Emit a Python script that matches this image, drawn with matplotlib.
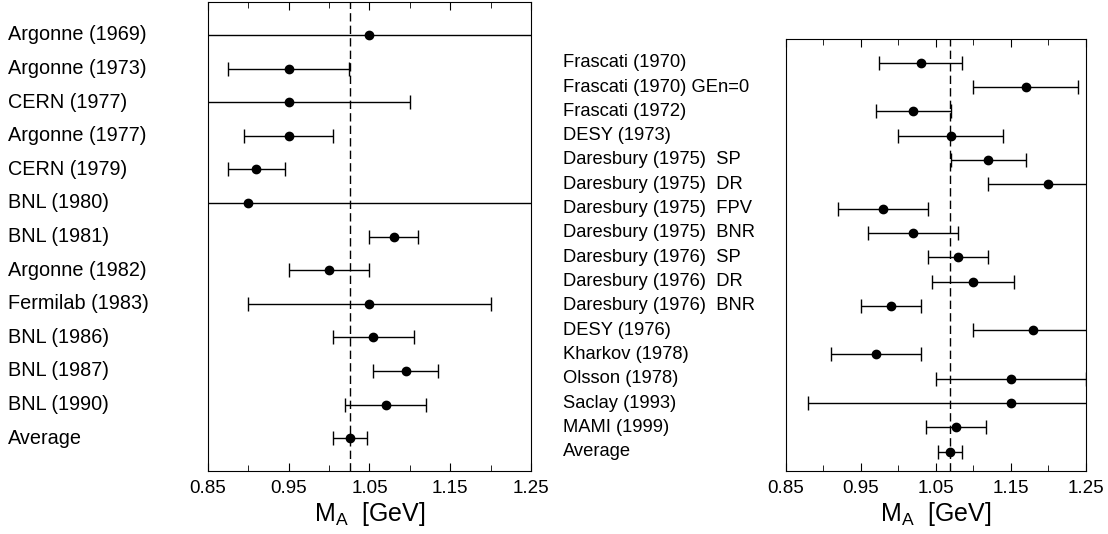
import matplotlib
matplotlib.use('Agg')
import matplotlib.pyplot as plt
from matplotlib.transforms import blended_transform_factory
from matplotlib.ticker import FixedLocator

plt.rcParams['font.family'] = 'Liberation Sans'
plt.rcParams['mathtext.fontset'] = 'custom'
plt.rcParams['mathtext.rm'] = 'Liberation Sans'

# neutrino scattering experiments
nu_labels = ['Argonne (1969)', 'Argonne (1973)', 'CERN (1977)', 'Argonne (1977)',
             'CERN (1979)', 'BNL (1980)', 'BNL (1981)', 'Argonne (1982)',
             'Fermilab (1983)', 'BNL (1986)', 'BNL (1987)', 'BNL (1990)', 'Average']
nu_ma = [1.05, 0.95, 0.95, 0.95, 0.91, 0.90, 1.08, 1.00, 1.05, 1.055, 1.095, 1.07, 1.026]
nu_err = [0.25, 0.075, 0.15, 0.055, 0.035, 0.40, 0.03, 0.05, 0.15, 0.05, 0.04, 0.05, 0.021]
nu_avg = 1.026

# pion electroproduction experiments
pi_labels = ['Frascati (1970)', 'Frascati (1970) GEn=0', 'Frascati (1972)', 'DESY (1973)',
             'Daresbury (1975)  SP', 'Daresbury (1975)  DR', 'Daresbury (1975)  FPV',
             'Daresbury (1975)  BNR', 'Daresbury (1976)  SP', 'Daresbury (1976)  DR',
             'Daresbury (1976)  BNR', 'DESY (1976)', 'Kharkov (1978)', 'Olsson (1978)',
             'Saclay (1993)', 'MAMI (1999)', 'Average']
pi_ma = [1.03, 1.17, 1.02, 1.07, 1.12, 1.20, 0.98, 1.02, 1.08, 1.10, 0.99, 1.18, 0.97,
         1.15, 1.15, 1.077, 1.069]
pi_err = [0.055, 0.07, 0.05, 0.07, 0.05, 0.08, 0.06, 0.06, 0.04, 0.055, 0.04, 0.08, 0.06,
          0.10, 0.27, 0.04, 0.016]
pi_avg = 1.069

x_ticks = [0.85, 0.95, 1.05, 1.15, 1.25]
x_minor = [0.90, 1.00, 1.10, 1.20]

fig = plt.figure(figsize=(11.08, 5.34), dpi=100)
ax1 = fig.add_axes([0.1877, 0.1185, 0.2915, 0.8778])
ax2 = fig.add_axes([0.7091, 0.1185, 0.2708, 0.8085])


def draw_panel(ax, labels, ma, err, avg, ylim, label_x, label_size):
    rows = list(range(len(labels)))
    ax.errorbar(ma, rows, xerr=err, fmt='o', color='black', ms=6, lw=1,
                capsize=5, capthick=1)
    ax.axvline(avg, color='black', lw=1, ls=(0, (6, 3)))
    ax.set_xlim(0.85, 1.25)
    ax.set_ylim(*ylim)
    ax.set_yticks([])
    ax.xaxis.set_major_locator(FixedLocator(x_ticks))
    ax.xaxis.set_minor_locator(FixedLocator(x_minor))
    ax.set_xticklabels(['%.2f' % v for v in x_ticks])
    ax.tick_params(axis='x', which='both', direction='in', top=True,
                   labelsize=13.5, pad=7)
    ax.tick_params(axis='x', which='major', length=6)
    ax.tick_params(axis='x', which='minor', length=4.3)
    ax.set_xlabel(r'M$_{\mathrm{A}}$  [GeV]', fontsize=18, labelpad=2)
    trans = blended_transform_factory(fig.transFigure, ax.transData)
    for r, lab in zip(rows, labels):
        ax.text(label_x, r, lab, transform=trans, ha='left', va='center',
                fontsize=label_size, clip_on=False)


draw_panel(ax1, nu_labels, nu_ma, nu_err, nu_avg, (12.97, -0.98), 8 / 1108, 14.3)
draw_panel(ax2, pi_labels, pi_ma, pi_err, pi_avg, (16.78, -0.975), 563 / 1108, 13.2)

fig.savefig('out.png', dpi=100)
